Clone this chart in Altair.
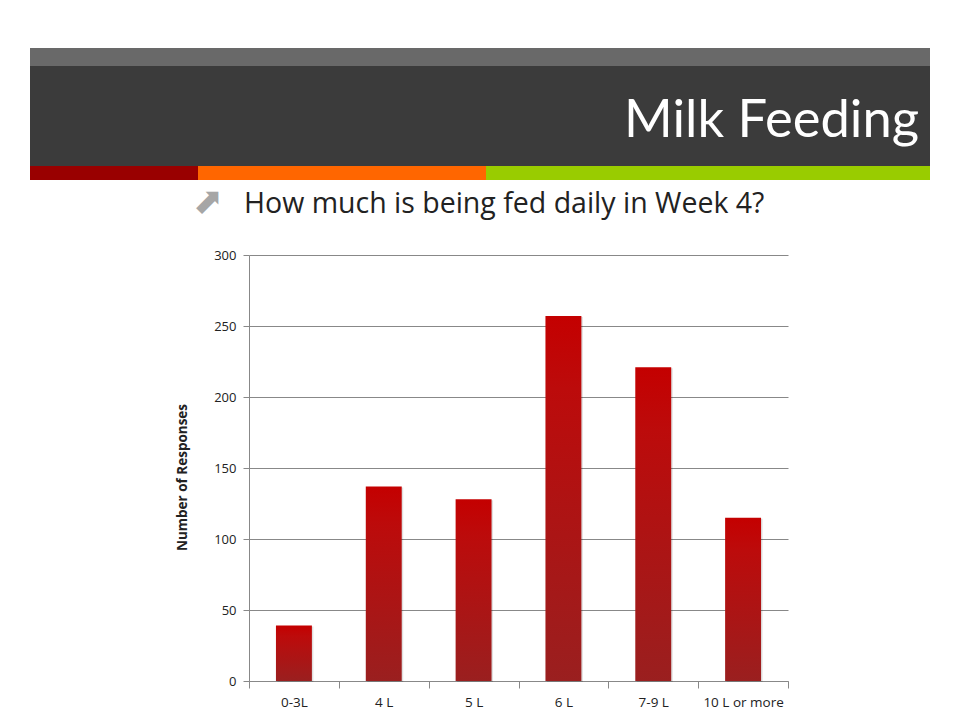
import altair as alt
import pandas as pd

categories = ["0-3L", "4 L", "5 L", "6 L", "7-9 L", "10 L or more"]
responses = [39, 137, 128, 257, 221, 115]
y_ticks = [0, 50, 100, 150, 200, 250, 300]
slide_title = "Milk Feeding"
bullet_text = "How much is being fed daily in Week 4?"
y_title = "Number of Responses"

df = pd.DataFrame({"category": categories, "responses": responses})
one = pd.DataFrame({"k": [0]})

W, H = 539, 426

bar_grad = alt.Gradient(
    gradient="linear",
    stops=[
        alt.GradientStop(color="#C40000", offset=0),
        alt.GradientStop(color="#BC0B0B", offset=0.2),
        alt.GradientStop(color="#9A1F1F", offset=1),
    ],
    x1=0, x2=0, y1=0, y2=1,
)

x_enc = alt.X(
    "category:N",
    sort=categories,
    scale=alt.Scale(paddingInner=0, paddingOuter=0),
    axis=alt.Axis(
        title=None,
        labelAngle=0,
        labelFont="Open Sans",
        labelFontSize=13.5,
        labelColor="#222222",
        labelPadding=7,
        tickBand="extent",
        tickSize=7,
        tickColor="#888888",
        domainColor="#888888",
        grid=False,
    ),
)
y_enc = alt.Y(
    "responses:Q",
    scale=alt.Scale(domain=[0, 300], nice=False),
    axis=alt.Axis(
        values=y_ticks,
        title=y_title,
        titleFont="Open Sans",
        titleFontSize=13.5,
        titleFontWeight="bold",
        titleColor="#222222",
        titleAngle=-90,
        titleX=-67,
        titleY=222,
        titleAlign="center",
        titleBaseline="middle",
        labelFont="Open Sans",
        labelFontSize=13,
        labelColor="#222222",
        labelPadding=7,
        tickSize=6,
        tickColor="#888888",
        domainColor="#888888",
        gridColor="#888888",
        gridWidth=1,
    ),
)

shadow = alt.Chart(df).mark_bar(
    color="#000000", opacity=0.12, xOffset=1.5, yOffset=1, width=alt.RelativeBandSize(0.4)
).encode(x=x_enc, y=y_enc)
bars = alt.Chart(df).mark_bar(color=bar_grad, width=alt.RelativeBandSize(0.4)).encode(x=x_enc, y=y_enc)

def band(x0, x1, y0, y1, color):
    return alt.Chart(one).mark_rect(color=color).encode(
        x=alt.value(x0), x2=alt.value(x1), y=alt.value(y0), y2=alt.value(y1)
    )

deco = [
    band(-219, 681, -207, -189, "#696969"),
    band(-219, 681, -189, -89, "#3B3B3B"),
    band(-219, -51, -89, -75, "#990000"),
    band(-51, 237, -89, -75, "#FF6600"),
    band(237, 681, -89, -75, "#99CC00"),
]

title_txt = alt.Chart(one).mark_text(
    text=slide_title, align="right", baseline="alphabetic", font="Lato",
    fontSize=52.5, color="#FFFFFF"
).encode(x=alt.value(670), y=alt.value(-118))

arrow_txt = alt.Chart(one).mark_text(
    text="\u2B08", align="center", baseline="middle", font="DejaVu Sans",
    fontSize=36, color="#A6A6A6"
).encode(x=alt.value(-41), y=alt.value(-53))

bullet_txt = alt.Chart(one).mark_text(
    text=bullet_text, align="left", baseline="alphabetic", font="Open Sans",
    fontSize=28.5, color="#222222"
).encode(x=alt.value(-5), y=alt.value(-42))

chart = alt.layer(*deco, title_txt, arrow_txt, bullet_txt, shadow, bars).properties(
    width=W,
    height=H,
    autosize=alt.AutoSizeParams(type="none"),
    padding={"left": 241, "top": 247, "right": 160, "bottom": 30},
    background="#FFFFFF",
).configure_view(stroke=None)

chart.save("out.html", embed_options={"renderer": "svg", "actions": False})
